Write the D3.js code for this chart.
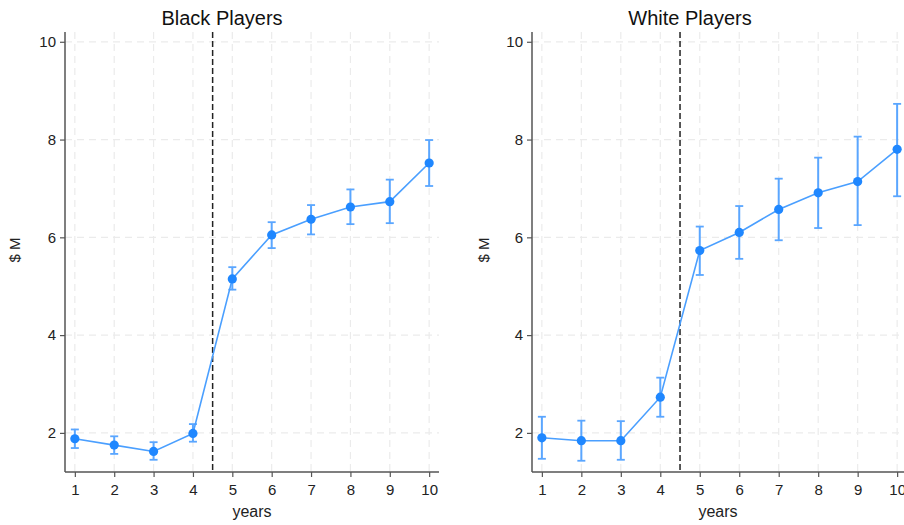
<!DOCTYPE html>
<html><head><meta charset="utf-8">
<script src="https://cdn.jsdelivr.net/npm/d3@7"></script>
<style>body{margin:0;background:#fff}svg{display:block;font-family:"Liberation Sans",Arial,sans-serif}</style>
</head><body>
<svg id="c" width="904" height="525"></svg>
<script>
const years = [1,2,3,4,5,6,7,8,9,10];
const blackMean = [1.88,1.75,1.62,1.99,5.15,6.05,6.37,6.62,6.73,7.52];
const blackLo   = [1.69,1.57,1.45,1.82,4.93,5.78,6.06,6.27,6.29,7.05];
const blackHi   = [2.07,1.93,1.81,2.18,5.39,6.31,6.66,6.98,7.18,7.99];
const whiteMean = [1.90,1.84,1.84,2.73,5.73,6.10,6.57,6.91,7.14,7.80];
const whiteLo   = [1.47,1.43,1.45,2.33,5.23,5.56,5.94,6.19,6.25,6.84];
const whiteHi   = [2.33,2.25,2.24,3.13,6.22,6.64,7.20,7.63,8.06,8.73];
const yTicks = [2,4,6,8,10];
const titles = ["Black Players","White Players"];
const cutoff = 4.5;

const svg = d3.select("#c");
const y = d3.scaleLinear().domain([1.2,10.2]).range([472,32]);
const panels = [
  {title:titles[0], mean:blackMean, lo:blackLo, hi:blackHi, x0:65, x1:439, titleX:222, yLabX:20, xLabX:252},
  {title:titles[1], mean:whiteMean, lo:whiteLo, hi:whiteHi, x0:532, x1:907, titleX:690, yLabX:489, xLabX:718}
];
const markC = "#1f87ff", lineC = "#4a9fff", errC = "#5aa6ff";

panels.forEach(p => {
  const x = d3.scaleLinear().domain([0.75,10.25]).range([p.x0,p.x1]);
  const g = svg.append("g");
  // grid
  g.selectAll(".gx").data(years).join("line")
    .attr("x1",d=>x(d)).attr("x2",d=>x(d)).attr("y1",y(10.2)).attr("y2",y(1.2))
    .attr("stroke","#ebebeb").attr("stroke-width",1.2).attr("stroke-dasharray","7,5");
  g.selectAll(".gy").data(yTicks).join("line")
    .attr("x1",p.x0).attr("x2",p.x1).attr("y1",d=>y(d)).attr("y2",d=>y(d))
    .attr("stroke","#ebebeb").attr("stroke-width",1.2).attr("stroke-dasharray","7,5");
  // axes
  const xa = g.append("g").attr("transform",`translate(0,${y(1.2)})`)
    .call(d3.axisBottom(x).tickValues(years).tickSize(5).tickPadding(7).tickFormat(d3.format("d")));
  const ya = g.append("g").attr("transform",`translate(${p.x0},0)`)
    .call(d3.axisLeft(y).tickValues(yTicks).tickSize(5).tickPadding(4).tickFormat(d3.format("d")));
  [xa,ya].forEach(a=>{
    a.select(".domain").attr("stroke","#555").attr("stroke-width",1.5);
    a.selectAll(".tick line").attr("stroke","#555").attr("stroke-width",1.2);
    a.selectAll(".tick text").attr("fill","#222").style("font-size","15px").style("font-family","'Liberation Sans',Arial,sans-serif");
  });
  ya.select(".domain").attr("d",`M-0,${y(10.2)}V${y(1.2)}`);
  xa.select(".domain").attr("d",`M${p.x0},0H${p.x1}`);
  // cutoff line
  g.append("line").attr("x1",x(cutoff)).attr("x2",x(cutoff)).attr("y1",y(10.2)).attr("y2",y(1.2))
    .attr("stroke","#222").attr("stroke-width",1.5).attr("stroke-dasharray","6,3");
  // error bars
  const eb = g.selectAll(".eb").data(years.map((d,i)=>({x:d,lo:p.lo[i],hi:p.hi[i]}))).join("g");
  eb.append("line").attr("x1",d=>x(d.x)).attr("x2",d=>x(d.x)).attr("y1",d=>y(d.lo)).attr("y2",d=>y(d.hi))
    .attr("stroke",errC).attr("stroke-width",2);
  eb.append("line").attr("x1",d=>x(d.x)-4).attr("x2",d=>x(d.x)+4).attr("y1",d=>y(d.lo)).attr("y2",d=>y(d.lo))
    .attr("stroke",errC).attr("stroke-width",1.8);
  eb.append("line").attr("x1",d=>x(d.x)-4).attr("x2",d=>x(d.x)+4).attr("y1",d=>y(d.hi)).attr("y2",d=>y(d.hi))
    .attr("stroke",errC).attr("stroke-width",1.8);
  // line
  g.append("path").datum(years.map((d,i)=>[d,p.mean[i]]))
    .attr("d",d3.line().x(d=>x(d[0])).y(d=>y(d[1])))
    .attr("fill","none").attr("stroke",lineC).attr("stroke-width",1.6);
  g.selectAll(".pt").data(years.map((d,i)=>[d,p.mean[i]])).join("circle")
    .attr("cx",d=>x(d[0])).attr("cy",d=>y(d[1])).attr("r",4.6).attr("fill",markC);
  // labels
  g.append("text").attr("x",p.titleX).attr("y",25).attr("text-anchor","middle")
    .style("font-size","20px").attr("fill","#111").text(p.title);
  g.append("text").attr("x",p.xLabX).attr("y",517).attr("text-anchor","middle")
    .style("font-size","16px").attr("fill","#222").text("years");
  g.append("text").attr("transform",`translate(${p.yLabX},250) rotate(-90)`).attr("text-anchor","middle")
    .style("font-size","15px").attr("fill","#222").text("$ M");
});
</script>
</body></html>
